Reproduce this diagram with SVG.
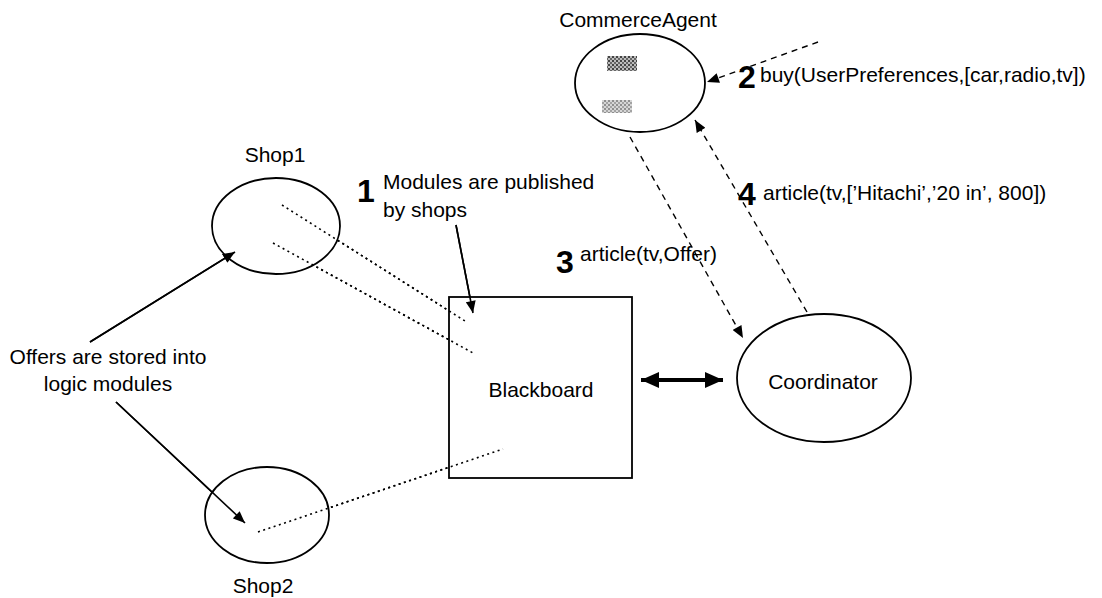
<svg xmlns="http://www.w3.org/2000/svg" width="1102" height="598" viewBox="0 0 1102 598">
  <style>
    .lbl { font-family: "Liberation Sans", Arial, sans-serif; font-size: 21px; fill: #000; }
    .num { font-family: "Liberation Sans", Arial, sans-serif; font-size: 32px; font-weight: bold; fill: #000; }
    .node { fill: #fff; stroke: #000; stroke-width: 1.8; }
    .dotted { fill: none; stroke: #000; stroke-width: 1.6; stroke-dasharray: 2 3.5; }
    .dashed { fill: none; stroke: #000; stroke-width: 1.4; stroke-dasharray: 6 5; }
    .solid { fill: none; stroke: #000; stroke-width: 1.6; }
  </style>
  <defs>
    <marker id="head" viewBox="0 0 12 10" refX="12" refY="5" markerWidth="13" markerHeight="10" markerUnits="userSpaceOnUse" orient="auto">
      <path d="M0,0 L12,5 L0,10 z" fill="#000"/>
    </marker>
    <marker id="bigHead" viewBox="0 0 18 16" refX="18" refY="8" markerWidth="18" markerHeight="16" markerUnits="userSpaceOnUse" orient="auto-start-reverse">
      <path d="M0,0 L18,8 L0,16 z" fill="#000"/>
    </marker>
    <pattern id="grain" width="4" height="4" patternUnits="userSpaceOnUse">
      <rect width="4" height="4" fill="#bbb"/>
      <rect width="2" height="2" fill="#444"/>
      <rect x="2" y="2" width="2" height="2" fill="#666"/>
    </pattern>
  </defs>

  <!-- connectors -->
  <g id="connectors">
    <!-- modules published from shops onto the blackboard -->
    <line class="dotted" x1="282" y1="205" x2="465" y2="321"/>
    <line class="dotted" x1="273" y1="243" x2="473" y2="353"/>
    <line class="dotted" x1="258" y1="532" x2="503" y2="449"/>
    <!-- annotation arrows -->
    <line class="solid" x1="90" y1="342" x2="235" y2="252" marker-end="url(#head)"/>
    <line class="solid" x1="116" y1="402" x2="245" y2="523" marker-end="url(#head)"/>
    <line class="solid" x1="456" y1="225" x2="473" y2="313" marker-end="url(#head)"/>
    <!-- message flow -->
    <line class="dashed" x1="818" y1="42" x2="707" y2="82" marker-end="url(#head)"/>
    <line class="dashed" x1="630" y1="137" x2="743" y2="338" marker-end="url(#head)"/>
    <line class="dashed" x1="807" y1="312" x2="695" y2="120" marker-end="url(#head)"/>
    <!-- blackboard <-> coordinator -->
    <line x1="641" y1="380" x2="723" y2="380" stroke="#000" stroke-width="4" marker-start="url(#bigHead)" marker-end="url(#bigHead)"/>
  </g>

  <g id="commerce-agent">
    <ellipse class="node" cx="640" cy="83" rx="65" ry="49"/>
    <rect x="607" y="56" width="30" height="15" fill="url(#grain)"/>
    <rect x="602" y="100" width="30" height="13" fill="url(#grain)" opacity="0.6"/>
    <text class="lbl" x="638" y="27" text-anchor="middle">CommerceAgent</text>
  </g>

  <g id="shop1">
    <ellipse class="node" cx="276" cy="226" rx="64" ry="48"/>
    <text class="lbl" x="275" y="162" text-anchor="middle">Shop1</text>
  </g>

  <g id="shop2">
    <ellipse class="node" cx="267" cy="515" rx="62" ry="48"/>
    <text class="lbl" x="263" y="593" text-anchor="middle">Shop2</text>
  </g>

  <g id="blackboard">
    <rect class="node" x="449" y="297" width="183" height="181"/>
    <text class="lbl" x="541" y="397" text-anchor="middle">Blackboard</text>
  </g>

  <g id="coordinator">
    <ellipse class="node" cx="824" cy="378" rx="87" ry="64"/>
    <text class="lbl" x="823" y="389" text-anchor="middle">Coordinator</text>
  </g>

  <!-- lines that run into the nodes, drawn again on top of the fills -->
  <g id="connectors-over">
    <line class="dotted" x1="282" y1="205" x2="465" y2="321"/>
    <line class="dotted" x1="273" y1="243" x2="473" y2="353"/>
    <line class="dotted" x1="258" y1="532" x2="503" y2="449"/>
    <line class="solid" x1="90" y1="342" x2="235" y2="252" marker-end="url(#head)"/>
    <line class="solid" x1="116" y1="402" x2="245" y2="523" marker-end="url(#head)"/>
    <line class="solid" x1="456" y1="225" x2="473" y2="313" marker-end="url(#head)"/>
  </g>

  <g id="annotations">
    <text class="lbl" x="108" y="364" text-anchor="middle">Offers are stored into</text>
    <text class="lbl" x="108" y="391" text-anchor="middle">logic modules</text>

    <text class="num" x="357" y="202">1</text>
    <text class="lbl" x="383" y="189">Modules are published</text>
    <text class="lbl" x="383" y="217">by shops</text>

    <text class="num" x="738" y="88">2</text>
    <text class="lbl" x="760" y="82">buy(UserPreferences,[car,radio,tv])</text>

    <text class="num" x="556" y="273">3</text>
    <text class="lbl" x="580" y="261">article(tv,Offer)</text>

    <text class="num" x="738" y="205">4</text>
    <text class="lbl" x="763" y="200">article(tv,[’Hitachi’,’20 in’, 800])</text>
  </g>
</svg>
